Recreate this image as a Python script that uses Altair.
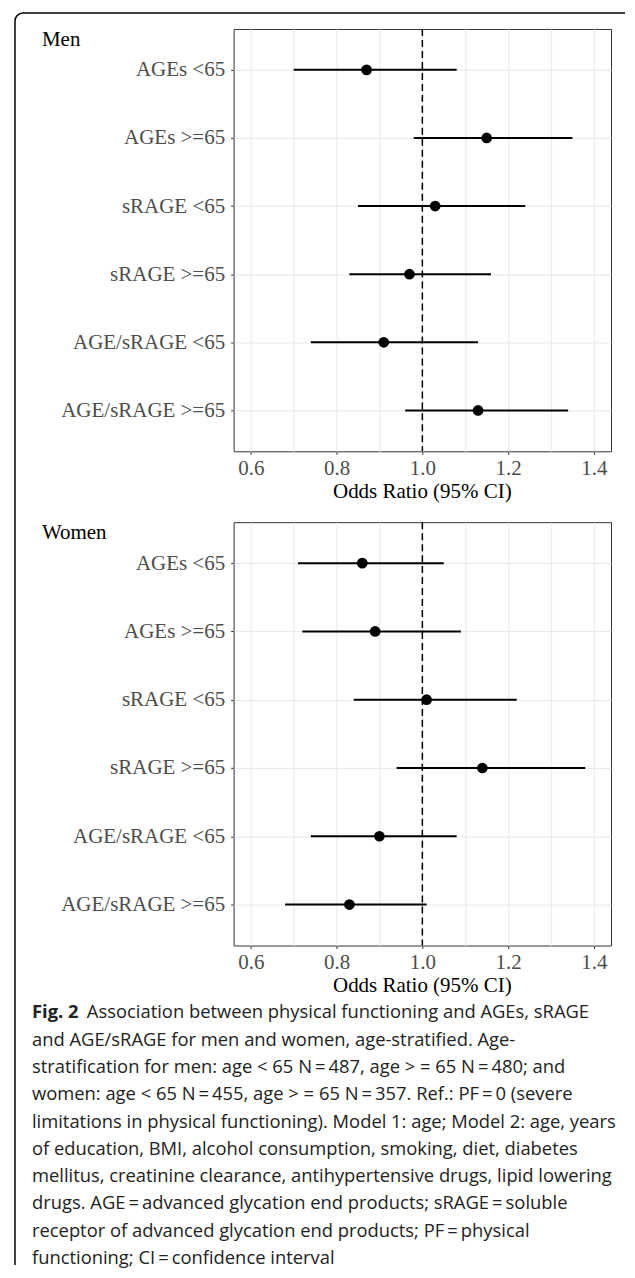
import altair as alt
import pandas as pd

# ---------------- data ----------------
labels = ["AGEs <65", "AGEs >=65", "sRAGE <65", "sRAGE >=65",
          "AGE/sRAGE <65", "AGE/sRAGE >=65"]

men_or = [0.87, 1.15, 1.03, 0.97, 0.91, 1.13]
men_lo = [0.70, 0.98, 0.85, 0.83, 0.74, 0.96]
men_hi = [1.08, 1.35, 1.24, 1.16, 1.13, 1.34]

women_or = [0.86, 0.89, 1.01, 1.14, 0.90, 0.83]
women_lo = [0.71, 0.72, 0.84, 0.94, 0.74, 0.68]
women_hi = [1.05, 1.09, 1.22, 1.38, 1.08, 1.01]

ref_line = [1.0]
x_grid = [0.6, 0.7, 0.8, 0.9, 1.0, 1.1, 1.2, 1.3, 1.4]
x_domain = [0.56, 1.44]
x_title = "Odds Ratio (95% CI)"

caption_bold = "Fig. 2"
caption_first = "Association between physical functioning and AGEs, sRAGE"
caption_lines = [
    "and AGE/sRAGE for men and women, age-stratified. Age-",
    "stratification for men: age < 65 N\u2009=\u2009487, age > = 65 N\u2009=\u2009480; and",
    "women: age < 65 N\u2009=\u2009455, age > = 65 N\u2009=\u2009357. Ref.: PF\u2009=\u20090 (severe",
    "limitations in physical functioning). Model 1: age; Model 2: age, years",
    "of education, BMI, alcohol consumption, smoking, diet, diabetes",
    "mellitus, creatinine clearance, antihypertensive drugs, lipid lowering",
    "drugs. AGE\u2009=\u2009advanced glycation end products; sRAGE\u2009=\u2009soluble",
    "receptor of advanced glycation end products; PF\u2009=\u2009physical",
    "functioning; CI\u2009=\u2009confidence interval",
]

SERIF = "Liberation Serif"
SANS = "Open Sans"
W = 378
CAP_SIZE = 18.4


def panel(title, or_, lo, hi, h, with_box=False):
    df = pd.DataFrame({"cat": labels, "or": or_, "lo": lo, "hi": hi})
    xscale = alt.Scale(domain=x_domain, nice=False, zero=False)
    xaxis = alt.Axis(
        values=x_grid,
        labelExpr="round(datum.value*10) % 2 == 0 ? format(datum.value, '.1f') : ''",
        tickOpacity={"condition": {"test": "round(datum.value*10) % 2 == 1", "value": 0}, "value": 1},
        grid=True,
        labelFont=SERIF, labelFontSize=21, labelColor="#4D4D4D",
    )
    yenc = alt.Y("cat:N", sort=labels, title=None,
                 scale=alt.Scale(type="point", padding=0.6),
                 axis=alt.Axis(grid=True, labelLimit=300, labelFont=SERIF,
                               labelFontSize=21, labelColor="#4D4D4D"))
    base = alt.Chart(df)
    err = base.mark_rule(color="black", strokeWidth=2).encode(
        x=alt.X("lo:Q", scale=xscale, axis=xaxis, title=None),
        x2="hi:Q",
        y=yenc,
    )
    pts = base.mark_circle(size=115, color="black", opacity=1).encode(
        x=alt.X("or:Q", title=None), y=yenc
    )
    ref = alt.Chart(pd.DataFrame({"ref": ref_line})).mark_rule(
        color="black", strokeWidth=1.5, strokeDash=[7, 4]
    ).encode(x=alt.X("ref:Q", title=None))
    lab = alt.Chart(pd.DataFrame({"t": [title]})).mark_text(
        align="left", baseline="alphabetic", font=SERIF, fontSize=21, color="black"
    ).encode(x=alt.value(-192), y=alt.value(17), text="t:N")
    xt = alt.Chart(pd.DataFrame({"t": [x_title]})).mark_text(
        align="center", baseline="middle", font=SERIF, fontSize=21, color="black"
    ).encode(x=alt.value(W / 2), y=alt.value(h + 41), text="t:N")
    layers = [err, pts, ref, lab, xt]
    if with_box:
        dummy = alt.Chart(pd.DataFrame({"a": [0]}))
        top = dummy.mark_rule(color="black", strokeWidth=1.5).encode(
            x=alt.value(-211), x2=alt.value(392), y=alt.value(-16))
        left = dummy.mark_rule(color="black", strokeWidth=1.5).encode(
            x=alt.value(-219), y=alt.value(-8), y2=alt.value(1238))
        corner = dummy.mark_arc(theta=4.712389, theta2=6.283185,
                                innerRadius=7.25, outerRadius=8.75,
                                color="black").encode(
            x=alt.value(-211), y=alt.value(-8))
        layers += [top, left, corner]
    return alt.layer(*layers).properties(width=W, height=h)


men = panel("Men", men_or, men_lo, men_hi, 423, with_box=True)
women = panel("Women", women_or, women_lo, women_hi, 424)

cap_df = pd.DataFrame({"i": list(range(1, 1 + len(caption_lines))), "t": caption_lines})
first_df = pd.DataFrame({"i": [0], "t": [caption_first], "b": [caption_bold]})
all_idx = list(range(0, 1 + len(caption_lines)))
cy = alt.Y("i:O", scale=alt.Scale(type="point", domain=all_idx, range=[-4, 242], padding=0), axis=None)

cap_rest = alt.Chart(cap_df).mark_text(
    align="left", baseline="middle", font=SANS, fontSize=CAP_SIZE, color="#222222"
).encode(x=alt.value(-202), y=cy, text="t:N")
cap_first = alt.Chart(first_df).mark_text(
    align="left", baseline="middle", font=SANS, fontSize=CAP_SIZE, color="#222222"
).encode(x=alt.value(-147), y=cy, text="t:N")
cap_bold = alt.Chart(first_df).mark_text(
    align="left", baseline="middle", font=SANS, fontSize=CAP_SIZE, fontWeight="bold", color="#222222"
).encode(x=alt.value(-202), y=cy, text="b:N")

caption = alt.layer(cap_rest, cap_first, cap_bold).properties(
    width=W, height=240, view=alt.ViewBackground(strokeOpacity=0)
)

chart = alt.vconcat(
    men, women, caption, spacing=71, bounds="flush",
    padding={"left": 5, "top": 2, "right": 0, "bottom": 0},
).configure_view(
    stroke="#333333", strokeWidth=1
).configure_axis(
    labelFont=SERIF, labelFontSize=21, labelColor="#4D4D4D",
    tickColor="#333333", tickSize=3, domain=False,
    gridColor="#EBEBEB", gridWidth=1.2,
).configure_axisY(
    labelPadding=6
).configure_axisX(
    labelPadding=3
)

chart.save("out.html", embed_options={"renderer": "svg", "actions": False})
